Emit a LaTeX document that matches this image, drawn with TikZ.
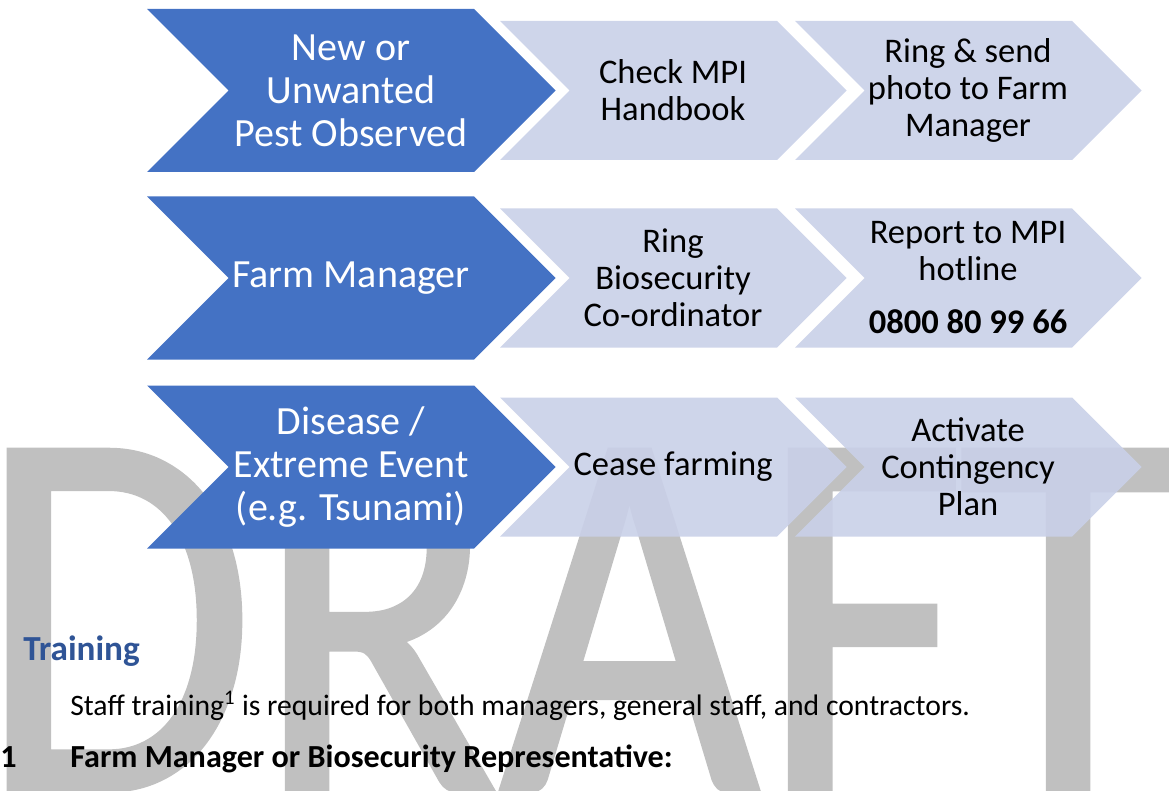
\documentclass[tikz,border=0pt]{standalone}
\usepackage{fontspec}
\setmainfont{Carlito}
\newfontfamily\draftfont[FakeBold=1]{Carlito}
\definecolor{chevblue}{HTML}{4472C4}
\definecolor{chevlight}{HTML}{C9D0E8}
\definecolor{headblue}{HTML}{2F5496}
\definecolor{markgray}{HTML}{C0C0C0}
\begin{document}
\begin{tikzpicture}[x=0.75pt, y=-0.75pt,
    bluechev/.style={fill=chevblue},
    lightchev/.style={fill=chevlight, fill opacity=0.9},
    bluetext/.style={text=white, align=center, font=\fontsize{30}{32.25}\selectfont},
    lighttext/.style={text=black, align=center, font=\fontsize{25.9}{27.75}\selectfont},
    bodytext/.style={anchor=base west, inner sep=0pt, font=\fontsize{22.25}{26}\selectfont},
    boldtext/.style={anchor=base west, inner sep=0pt, font=\fontsize{24.1}{28}\selectfont\bfseries},
    marktext/.style={inner sep=0pt, text=markgray, xscale=0.85, font=\draftfont\fontsize{397}{397}\selectfont}]
    \useasboundingbox (0,0) rectangle (1169,791) ;
    \node [marktext, anchor=base west] (draft) at (-22,790) {DRAF} ;
    \node [marktext, anchor=base] (draftT) at (1068,790) {T} ;

    \fill [bluechev] (147,9) -- ++(327,0) -- ++(81.5,81.5) -- ++(-81.5,81.5) -- ++(-327,0) -- ++(81.5,-81.5) -- cycle ;
    \fill [lightchev] (500,21) -- ++(277,0) -- ++(69.5,69.5) -- ++(-69.5,69.5) -- ++(-277,0) -- ++(69.5,-69.5) -- cycle ;
    \fill [lightchev] (795,21) -- ++(277,0) -- ++(69.5,69.5) -- ++(-69.5,69.5) -- ++(-277,0) -- ++(69.5,-69.5) -- cycle ;

    \fill [bluechev] (147,196.5) -- ++(327,0) -- ++(81.5,81.5) -- ++(-81.5,81.5) -- ++(-327,0) -- ++(81.5,-81.5) -- cycle ;
    \fill [lightchev] (500,208.5) -- ++(277,0) -- ++(69.5,69.5) -- ++(-69.5,69.5) -- ++(-277,0) -- ++(69.5,-69.5) -- cycle ;
    \fill [lightchev] (795,208.5) -- ++(277,0) -- ++(69.5,69.5) -- ++(-69.5,69.5) -- ++(-277,0) -- ++(69.5,-69.5) -- cycle ;

    \fill [bluechev] (147,385.5) -- ++(327,0) -- ++(81.5,81.5) -- ++(-81.5,81.5) -- ++(-327,0) -- ++(81.5,-81.5) -- cycle ;
    \fill [lightchev] (500,397.5) -- ++(277,0) -- ++(69.5,69.5) -- ++(-69.5,69.5) -- ++(-277,0) -- ++(69.5,-69.5) -- cycle ;
    \fill [lightchev] (795,397.5) -- ++(277,0) -- ++(69.5,69.5) -- ++(-69.5,69.5) -- ++(-277,0) -- ++(69.5,-69.5) -- cycle ;

    \node [bluetext] (pest) at (351,90.5) {New or\\Unwanted\\Pest Observed} ;
    \node [lighttext] (handbook) at (673,90.5) {Check MPI\\Handbook} ;
    \node [lighttext] (photo) at (968,90.5) {Ring \& send\\photo to Farm\\Manager} ;

    \node [bluetext] (manager) at (351,278) {Farm Manager} ;
    \node [lighttext] (coord) at (673,278) {Ring\\Biosecurity\\Co-ordinator} ;
    \node [lighttext] (hotline) at (968,278) {Report to MPI\\hotline\\[12pt]\textbf{0800 80 99 66}} ;

    \node [bluetext] (disease) at (351,467) {Disease /\\Extreme Event\\(e.g. Tsunami)} ;
    \node [lighttext] (cease) at (673,467) {Cease farming} ;
    \node [lighttext] (plan) at (968,467) {Activate\\Contingency\\Plan} ;

    \node [boldtext, text=headblue, font=\fontsize{26.4}{30}\selectfont\bfseries] (training) at (23,660) {Training} ;
    \node [bodytext] (staff) at (70,715) {Staff training\textsuperscript{1} is required for both managers, general staff, and contractors.} ;
    \node [boldtext] (num) at (0,767) {1} ;
    \node [boldtext] (rep) at (70,767) {Farm Manager or Biosecurity Representative:} ;
\end{tikzpicture}
\end{document}
